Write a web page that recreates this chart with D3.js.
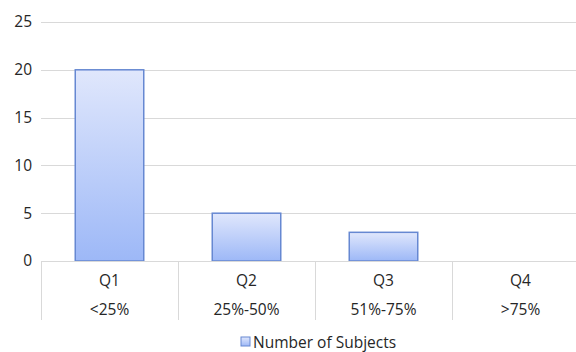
<!DOCTYPE html>
<html>
<head>
<meta charset="utf-8">
<script src="https://cdn.jsdelivr.net/npm/d3@7"></script>
<style>
  body { margin: 0; background: #fff; }
  svg { display: block; font-family: "Open Sans", "Noto Sans", sans-serif; }
</style>
</head>
<body>
<div id="chart"></div>
<script>
// data
const quarters = ["Q1", "Q2", "Q3", "Q4"];
const ranges = ["<25%", "25%-50%", "51%-75%", ">75%"];
const subjects = [20, 5, 3, 0];
const yTicks = [0, 5, 10, 15, 20, 25];
const seriesName = "Number of Subjects";

// layout
const WIDTH = 576;
const HEIGHT = 352;
const PLOT_LEFT = 41;
const PLOT_RIGHT = 589;
const PLOT_TOP = 22;
const PLOT_BOTTOM = 261;
const TABLE_BOTTOM = 320;
const FONT_SIZE = 15.5;
const GRID_COLOR = "#d9d9d9";
const BAR_STROKE = "#6688d2";
const TEXT_COLOR = "#262626";

const svg = d3.select("#chart").append("svg")
    .attr("width", WIDTH)
    .attr("height", HEIGHT);

const defs = svg.append("defs");
const grad = defs.append("linearGradient")
    .attr("id", "barFill")
    .attr("x1", 0).attr("y1", 0).attr("x2", 0).attr("y2", 1);
grad.append("stop").attr("offset", "0%").attr("stop-color", "#e0e7fc");
grad.append("stop").attr("offset", "100%").attr("stop-color", "#9db8f7");

const x = d3.scaleBand()
    .domain(quarters)
    .range([PLOT_LEFT, PLOT_RIGHT])
    .paddingInner(0.5)
    .paddingOuter(0.25);

const xBand = d3.scaleBand()
    .domain(quarters)
    .range([PLOT_LEFT, PLOT_RIGHT]);

const y = d3.scaleLinear()
    .domain([0, 25])
    .range([PLOT_BOTTOM, PLOT_TOP]);

// gridlines
svg.append("g")
    .selectAll("line")
    .data(yTicks.filter(d => d > 0))
    .join("line")
    .attr("x1", PLOT_LEFT)
    .attr("x2", PLOT_RIGHT)
    .attr("y1", d => Math.round(y(d)) + 0.5)
    .attr("y2", d => Math.round(y(d)) + 0.5)
    .attr("stroke", GRID_COLOR)
    .attr("stroke-width", 1);

// y axis labels
const yAxis = svg.append("g")
    .attr("transform", `translate(${PLOT_LEFT}, 0)`)
    .call(d3.axisLeft(y).tickValues(yTicks).tickSize(0).tickPadding(9));
yAxis.select(".domain").remove();
yAxis.selectAll("text")
    .attr("font-size", FONT_SIZE)
    .attr("fill", TEXT_COLOR)
    .attr("font-family", "'Open Sans', sans-serif");

// bars
svg.append("g")
    .selectAll("rect")
    .data(quarters.map((q, i) => ({ q, v: subjects[i] })).filter(d => d.v > 0))
    .join("rect")
    .attr("x", d => x(d.q))
    .attr("y", d => y(d.v))
    .attr("width", x.bandwidth())
    .attr("height", d => y(0) - y(d.v))
    .attr("fill", "url(#barFill)")
    .attr("stroke", BAR_STROKE)
    .attr("stroke-width", 1.5);

// table under the axis
const table = svg.append("g");
table.append("line")
    .attr("x1", PLOT_LEFT).attr("x2", PLOT_RIGHT)
    .attr("y1", PLOT_BOTTOM + 0.5).attr("y2", PLOT_BOTTOM + 0.5)
    .attr("stroke", GRID_COLOR);

table.selectAll(".divider")
    .data(quarters)
    .join("line")
    .attr("class", "divider")
    .attr("x1", d => Math.round(xBand(d)) + 0.5)
    .attr("x2", d => Math.round(xBand(d)) + 0.5)
    .attr("y1", PLOT_BOTTOM)
    .attr("y2", TABLE_BOTTOM)
    .attr("stroke", GRID_COLOR);

table.selectAll(".qLabel")
    .data(quarters)
    .join("text")
    .attr("class", "qLabel")
    .attr("x", d => xBand(d) + xBand.bandwidth() / 2)
    .attr("y", 286)
    .attr("text-anchor", "middle")
    .attr("font-size", FONT_SIZE)
    .attr("fill", TEXT_COLOR)
    .text(d => d);

table.selectAll(".rLabel")
    .data(ranges)
    .join("text")
    .attr("class", "rLabel")
    .attr("x", (d, i) => xBand(quarters[i]) + xBand.bandwidth() / 2)
    .attr("y", 315)
    .attr("text-anchor", "middle")
    .attr("font-size", FONT_SIZE)
    .attr("fill", TEXT_COLOR)
    .text(d => d);

// legend
const legend = svg.append("g").attr("transform", "translate(241, 337)");
legend.append("rect")
    .attr("x", 0).attr("y", 0)
    .attr("width", 9).attr("height", 9)
    .attr("fill", "url(#barFill)")
    .attr("stroke", BAR_STROKE)
    .attr("stroke-width", 1);
legend.append("text")
    .attr("x", 12)
    .attr("y", 11)
    .attr("font-size", FONT_SIZE)
    .attr("fill", TEXT_COLOR)
    .text(seriesName);
</script>
</body>
</html>
